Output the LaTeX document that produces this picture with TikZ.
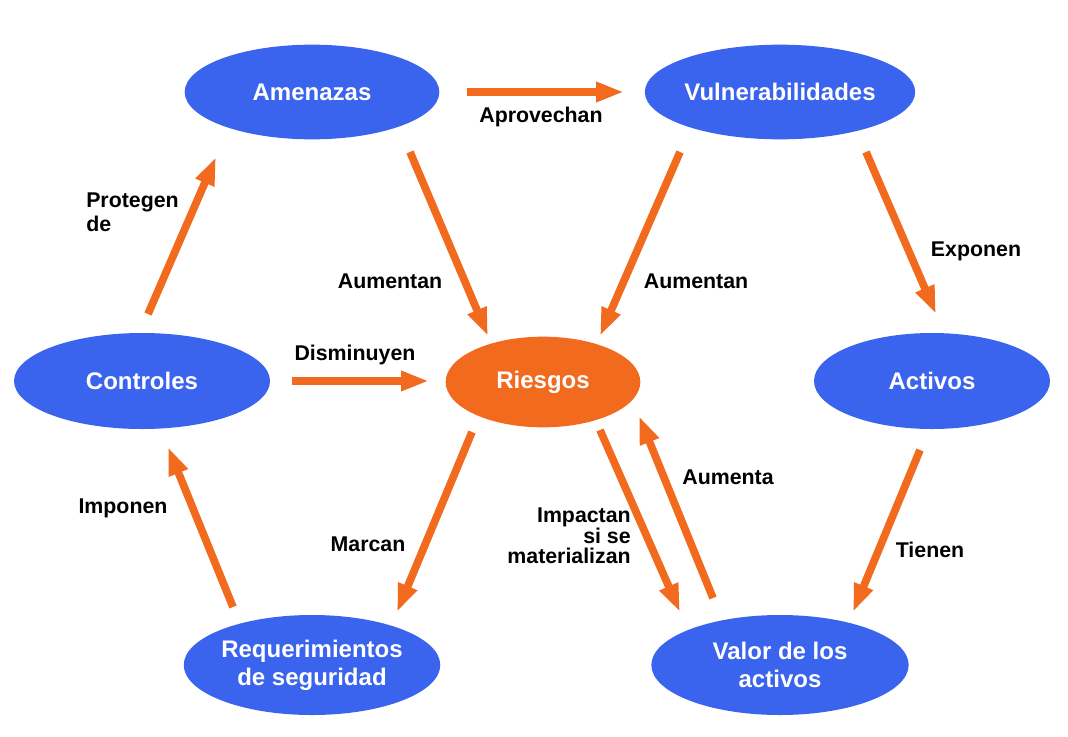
\documentclass[tikz,border=0pt]{standalone}
\usepackage{fontspec}
\setmainfont{Liberation Sans}
\usetikzlibrary{arrows.meta,shapes.geometric}
\definecolor{nodeblue}{HTML}{3A63EE}
\definecolor{arrorange}{HTML}{F26A1E}
\tikzset{
  bluenode/.style={ellipse, fill=nodeblue, draw=none, minimum width=#1, text=white, font=\fontsize{18}{21}\selectfont\bfseries, align=center, inner sep=0pt},
  orangenode/.style={ellipse, fill=arrorange, draw=none, text=white, font=\fontsize{18}{21}\selectfont\bfseries, align=center, inner sep=0pt},
  conn/.style={draw=arrorange, line width=5.8pt, -{Triangle[width=14pt,length=21pt]}, shorten >=0pt},
  lbl/.style={font=\fontsize{16}{18}\selectfont\bfseries, text=black, inner sep=0pt}
}
\begin{document}
\begin{tikzpicture}[x=0.75pt,y=-0.75pt]
\useasboundingbox (0,0) rectangle (1068,736);
% ellipses
\node[bluenode, minimum width=191pt, minimum height=71pt] (amen) at (312,92) {Amenazas};
\node[bluenode, minimum width=193pt, minimum height=71pt] (vuln) at (780,92) {Vulnerabilidades};
\node[bluenode, minimum width=192pt, minimum height=72pt] (ctrl) at (142,381) {Controles};
\node[orangenode, minimum width=146pt, minimum height=68pt] (ries) at (543,382) {Riesgos};
\node[bluenode, minimum width=177pt, minimum height=72pt] (act) at (932,381) {Activos};
\node[bluenode, minimum width=191pt, minimum height=75pt] (req) at (312,665) {Requerimientos\\de seguridad};
\node[bluenode, minimum width=193pt, minimum height=75pt] (val) at (780,665) {Valor de los\\activos};
% arrow endpoints
\coordinate (a1) at (467,92);  \coordinate (a2) at (624,92);
\coordinate (b1) at (148,314); \coordinate (b2) at (216,157);
\coordinate (c1) at (410,152); \coordinate (c2) at (488,336);
\coordinate (d1) at (680,152); \coordinate (d2) at (600,336);
\coordinate (e1) at (866,152); \coordinate (e2) at (936,314);
\coordinate (f1) at (292,381); \coordinate (f2) at (429,381);
\coordinate (g1) at (920,450); \coordinate (g2) at (853,612);
\coordinate (h1) at (233,607); \coordinate (h2) at (168,447);
\coordinate (i1) at (472,432); \coordinate (i2) at (397,612);
\coordinate (j1) at (600,430); \coordinate (j2) at (680,612);
\coordinate (k1) at (713,598); \coordinate (k2) at (639,416);
\draw[conn] (a1) -- (a2);
\draw[conn] (b1) -- (b2);
\draw[conn] (c1) -- (c2);
\draw[conn] (d1) -- (d2);
\draw[conn] (e1) -- (e2);
\draw[conn] (f1) -- (f2);
\draw[conn] (g1) -- (g2);
\draw[conn] (h1) -- (h2);
\draw[conn] (i1) -- (i2);
\draw[conn] (j1) -- (j2);
\draw[conn] (k1) -- (k2);
% labels
\node[lbl] (l1) at (541,117) {Aprovechan};
\node[lbl, align=left, anchor=west] (l2) at (86,212) {Protegen\\de};
\node[lbl] (l3) at (390,281) {Aumentan};
\node[lbl] (l4) at (696,281) {Aumentan};
\node[lbl] (l5) at (976,251) {Exponen};
\node[lbl] (l6) at (355,355) {Disminuyen};
\node[lbl] (l7) at (930,550) {Tienen};
\node[lbl] (l8) at (123,508) {Imponen};
\node[lbl] (l9) at (368,544) {Marcan};
\node[lbl, align=right, anchor=east, font=\fontsize{16}{15.5}\selectfont\bfseries] (l10) at (631,536) {Impactan\\si se\\materializan};
\node[lbl] (l11) at (728,477) {Aumenta};
\end{tikzpicture}
\end{document}
